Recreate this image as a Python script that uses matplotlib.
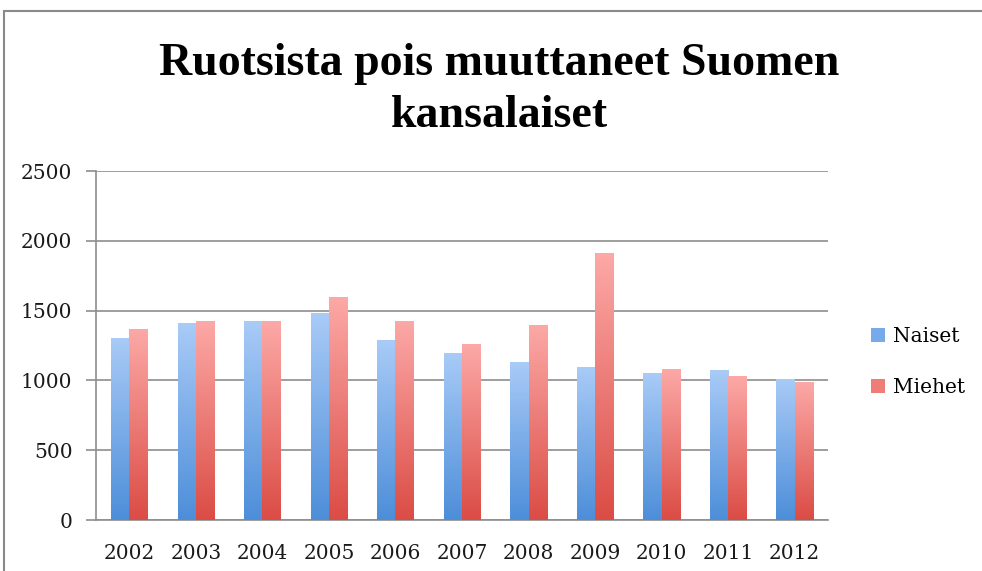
import numpy as np
import matplotlib
matplotlib.use("Agg")
import matplotlib.pyplot as plt
from matplotlib.patches import Rectangle, Patch
from matplotlib.colors import LinearSegmentedColormap

years = ["2002", "2003", "2004", "2005", "2006", "2007", "2008", "2009", "2010", "2011", "2012"]
naiset = [1305, 1410, 1422, 1481, 1287, 1197, 1135, 1094, 1053, 1074, 1012]
miehet = [1369, 1422, 1422, 1594, 1429, 1258, 1398, 1912, 1083, 1031, 991]
series_names = ["Naiset", "Miehet"]
title = "Ruotsista pois muuttaneet Suomen\nkansalaiset"
yticks = [0, 500, 1000, 1500, 2000, 2500]

blue_cmap = LinearSegmentedColormap.from_list("b", ["#4d8ed9", "#a9cbf7"])
red_cmap = LinearSegmentedColormap.from_list("r", ["#db4c45", "#fca9a7"])

fig = plt.figure(figsize=(9.82, 5.71), dpi=100)
ax = fig.add_axes([96 / 982, 51 / 571, 732 / 982, 349 / 571])

x = np.arange(len(years))
w = 0.275
bars_n = ax.bar(x - w / 2, naiset, w, facecolor="none", edgecolor="none", zorder=3)
bars_m = ax.bar(x + w / 2, miehet, w, facecolor="none", edgecolor="none", zorder=3)

grad = np.linspace(0, 1, 256).reshape(-1, 1)
for bars, cmap in ((bars_n, blue_cmap), (bars_m, red_cmap)):
    for b in bars:
        x0, y0 = b.get_x(), b.get_y()
        bw, bh = b.get_width(), b.get_height()
        im = ax.imshow(grad, cmap=cmap, origin="lower", aspect="auto",
                       extent=(x0, x0 + bw, y0, y0 + bh), zorder=3,
                       interpolation="bilinear")
        im.set_clip_path(b)

ax.set_xlim(-0.5, len(years) - 0.5)
ax.set_ylim(0, 2500)
ax.set_yticks(yticks)
ax.set_xticks(x)
ax.set_xticklabels(years)
ax.set_aspect("auto")

gc = "#8e8e8e"
ax.yaxis.grid(True, color=gc, linewidth=1.2, zorder=0)
ax.set_axisbelow(True)
for s in ("top", "right"):
    ax.spines[s].set_visible(False)
ax.spines["left"].set_color(gc)
ax.spines["bottom"].set_color(gc)
ax.spines["left"].set_linewidth(1.2)
ax.spines["bottom"].set_linewidth(1.2)
ax.tick_params(axis="y", length=7, width=1.2, color=gc, pad=10, labelsize=14.5)
ax.tick_params(axis="x", length=0, pad=17, labelsize=14.5)
for lbl in ax.get_xticklabels() + ax.get_yticklabels():
    lbl.set_fontfamily("DejaVu Serif")
    lbl.set_color("#1a1a1a")

fig.text(499 / 982, 1 - 90 / 571, title, ha="center", va="center",
         fontsize=33, fontweight="bold", family="Liberation Serif",
         linespacing=1.3, color="black")

handles = [Patch(facecolor="#76aaea", edgecolor="none"),
           Patch(facecolor="#ee7d78", edgecolor="none")]
fig.legend(handles, series_names, loc="center left",
           bbox_to_anchor=(853 / 982, 1 - 362 / 571), frameon=False,
           handlelength=0.7, handleheight=0.7, handletextpad=0.4,
           labelspacing=1.6, prop={"family": "DejaVu Serif", "size": 14.5})

fig.add_artist(Rectangle((3.5 / 982, -0.1), 1.2, 1.1 - 10.5 / 571,
                         transform=fig.transFigure, fill=False,
                         edgecolor="#8a8a8a", linewidth=1.5))

fig.savefig("out.png", dpi=100)
